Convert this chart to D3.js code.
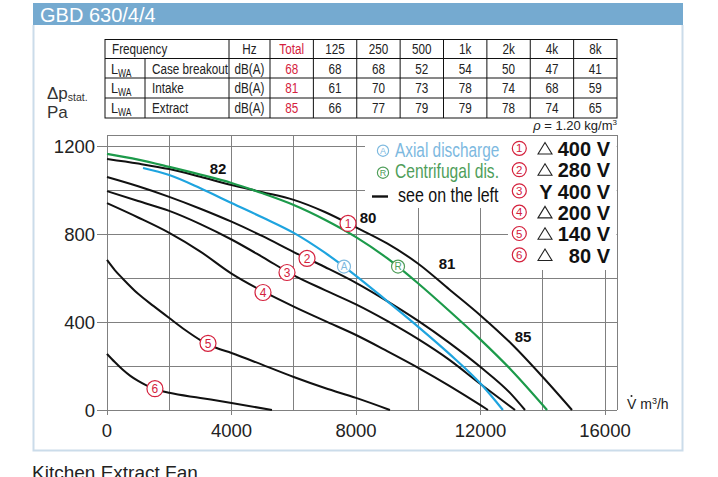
<!DOCTYPE html>
<html><head><meta charset="utf-8">
<script src="https://cdn.jsdelivr.net/npm/d3@7"></script>
<style>body{margin:0;background:#fff}svg{display:block;font-family:"Liberation Sans",Arial,Helvetica,sans-serif}</style>
</head><body><svg id="c" width="718" height="477"></svg>
<script>
// ---------- DATA ----------
const title = "GBD 630/4/4";
const footer = "Kitchen Extract Fan";
const freqHeaders = ["Total","125","250","500","1k","2k","4k","8k"];
const rowLabels = ["Case breakout","Intake","Extract"];
const caseBreakout = [68,68,68,52,54,50,47,41];
const intake = [81,61,70,73,78,74,68,59];
const extract = [85,66,77,79,79,78,74,65];
const xTicks = [0,4000,8000,12000,16000];
const yTicks = [0,400,800,1200];

// fan curves [flow m3/h, static pressure Pa]
const curve1 = [[0,1141],[1000,1120],[2000,1095],[3000,1060],[4000,1023],[5000,990],[6000,955],[7000,900],[8000,830],[9000,757],[10000,665],[11000,548],[12000,430],[13000,300],[14000,150],[14940,0]];
const curve2 = [[0,1059],[1000,1017],[2000,969],[3000,915],[4000,856],[5000,790],[6000,718],[7000,650],[8000,578],[9000,495],[10000,405],[11000,305],[12000,195],[13000,70],[13430,0]];
const curve3 = [[0,995],[1000,950],[2000,905],[3000,845],[4000,775],[5000,695],[6000,612],[7000,545],[8000,480],[9000,405],[10000,322],[11000,228],[12000,118],[13110,0]];
const curve4 = [[0,940],[1000,875],[2000,805],[3000,720],[4000,620],[5000,540],[6000,470],[7000,405],[8000,341],[9000,268],[10000,192],[11000,110],[12000,22],[12240,0]];
const curve5 = [[0,682],[250,636],[500,598],[1000,528],[1500,472],[2000,418],[2500,365],[3000,318],[3500,283],[4000,259],[5000,205],[6000,150],[7000,100],[8000,55],[9092,0]];
const curve6 = [[0,255],[250,218],[500,184],[750,155],[1000,132],[1250,113],[1500,98],[2000,78],[3000,55],[4000,32],[5300,0]];
const curveAxial = [[1157,1100],[2000,1068],[3000,1008],[4000,941],[5000,875],[6000,805],[7000,715],[8000,610],[9000,495],[10000,378],[11000,255],[12000,120],[12720,0]];
const curveCentrifugal = [[0,1164],[1000,1138],[2000,1105],[3000,1070],[4000,1032],[5000,985],[6000,932],[7000,865],[8000,786],[9000,690],[10000,575],[11000,450],[12000,320],[13000,180],[14140,0]];

const curveLabelPts = [[7743,848],[6426,689],[5783,625],[5012,534],[3245,303],[1540,97]];
const axialLabelPt = [7614,652];
const centrifugalLabelPt = [9350,652];
const soundLabels = [["82",3566,1100],["80",8387,873],["81",10924,664],["85",13366,332]];

const voltLabels = ["400 V","280 V","Y 400 V","200 V","140 V","80 V"];
const delta = [true,true,false,true,true,true];

// ---------- SETUP ----------
const svg = d3.select('#c');
const RED = '#d4213d', BLUE = '#1ea4df', GREEN = '#1c9a4a', LBLUE = '#7db9df', LGREEN = '#4f9e5a';
function ctext(parent,px,py,txt,k,anchor){
  return parent.append('text').attr('transform',`translate(${px},${py}) scale(${k},1)`).attr('text-anchor',anchor||'start').text(txt);
}

// header + panel
svg.append('rect').attr('x',33).attr('y',3).attr('width',650).attr('height',22).attr('fill','#75aad0');
svg.append('text').text(title).attr('x',40).attr('y',21.5).attr('fill','#fff').attr('font-size',20);
svg.append('path').attr('d','M33.5,25 V450.5 H682.5 V25').attr('fill','none').attr('stroke','#cbdcea').attr('stroke-width',2);
svg.append('text').text(footer).attr('x',32).attr('y',479).attr('font-size',19).attr('fill','#222');

// ---------- TABLE ----------
const tL=105, tM=145, tLab=229, tHz=270, tR=617;
const rowY = [39.5,58.5,78,98,118];
const band = d3.scaleBand().domain(freqHeaders).range([tHz,tR]);
const tg = svg.append('g').attr('stroke','#111').attr('stroke-width',1).attr('fill','none');
tg.append('rect').attr('x',tL).attr('y',rowY[0]).attr('width',tR-tL).attr('height',rowY[4]-rowY[0]);
rowY.slice(1,4).forEach(r=>tg.append('line').attr('x1',tL).attr('x2',tR).attr('y1',r).attr('y2',r));
[tLab,tHz].concat(freqHeaders.slice(1).map(d=>band(d))).forEach(c=>tg.append('line').attr('x1',c).attr('x2',c).attr('y1',rowY[0]).attr('y2',rowY[4]));
tg.append('line').attr('x1',tM).attr('x2',tM).attr('y1',rowY[1]).attr('y2',rowY[4]);
const tt = svg.append('g').attr('font-size',15).attr('fill','#222');
const rc = i => (rowY[i]+rowY[i+1])/2 + 5.4;
const K = 0.78;
ctext(tt,112,rc(0),'Frequency',K);
ctext(tt,(tLab+tHz)/2,rc(0),'Hz',K,'middle');
freqHeaders.forEach((h,i)=>ctext(tt,band(h)+band.bandwidth()/2,rc(0),h,K,'middle').attr('fill',i===0?RED:'#222'));
[caseBreakout,intake,extract].forEach((vals,r)=>{
  const L = tt.append('text').attr('transform',`translate(111,${rc(r+1)}) scale(0.85,1)`);
  L.append('tspan').text('L'); L.append('tspan').attr('font-size',10).attr('dy',3).text('WA');
  ctext(tt,152,rc(r+1),rowLabels[r],K);
  ctext(tt,(tLab+tHz)/2,rc(r+1),'dB(A)',K,'middle');
  vals.forEach((v,i)=>ctext(tt,band(freqHeaders[i])+band.bandwidth()/2,rc(r+1),v,K,'middle').attr('fill',i===0?RED:'#222'));
});
const rho = svg.append('text').attr('x',617).attr('y',130).attr('text-anchor','end').attr('font-size',13).attr('fill','#222');
rho.append('tspan').attr('font-style','italic').text('ρ');
rho.append('tspan').text(' = 1.20 kg/m');
rho.append('tspan').attr('font-size',8).attr('dy',-5).text('3');

// y-axis title
const yt = svg.append('text').attr('x',47).attr('y',99).attr('font-size',17).attr('fill','#333');
yt.append('tspan').text('Δp'); yt.append('tspan').attr('font-size',10.5).attr('dy',2).text('stat.');
svg.append('text').attr('x',47).attr('y',118).attr('font-size',17).attr('fill','#333').text('Pa');

// ---------- CHART ----------
const x = d3.scaleLinear().domain([0,16000]).range([107,605]);
const y = d3.scaleLinear().domain([0,1200]).range([410,146]);
const xEdge = 16400, yEdge = 1250;
const gg = svg.append('g').attr('stroke','#808080').attr('stroke-width',1);
d3.range(0,16001,2000).concat([xEdge]).forEach(v=>gg.append('line').attr('x1',x(v)).attr('x2',x(v)).attr('y1',xTicks.includes(v)?y(0)+5:y(0)).attr('y2',y(yEdge)));
d3.range(0,1201,200).concat([yEdge]).forEach(p=>gg.append('line').attr('y1',y(p)).attr('y2',y(p)).attr('x1',yTicks.includes(p)?x(0)-10:x(0)).attr('x2',x(xEdge)));
gg.selectAll('line').attr('shape-rendering','crispEdges');
// legend backgrounds
svg.append('rect').attr('x',365).attr('y',y(yEdge)+1).attr('width',x(xEdge)-365-1).attr('height',208-y(yEdge)-1).attr('fill','#fff');
svg.append('rect').attr('x',508).attr('y',y(yEdge)+1).attr('width',x(xEdge)-508-1).attr('height',270-y(yEdge)-1).attr('fill','#fff');

// tick labels
const tk = svg.append('g').attr('font-size',18.5).attr('fill','#222');
yTicks.forEach(p=>tk.append('text').attr('x',95).attr('y',y(p)+6.6).attr('text-anchor','end').text(p));
xTicks.forEach(v=>tk.append('text').attr('x',x(v)).attr('y',437).attr('text-anchor','middle').text(v));
// x unit
const xu = svg.append('text').attr('x',627).attr('y',409).attr('font-size',14).attr('fill','#222');
xu.append('tspan').text('V'); xu.append('tspan').text(' m'); xu.append('tspan').attr('font-size',9).attr('dy',-5).text('3'); xu.append('tspan').attr('dy',5).text('/h');
svg.append('circle').attr('cx',631.5).attr('cy',396).attr('r',1).attr('fill','#222');

// curves
const line = d3.line().x(d=>x(d[0])).y(d=>y(d[1])).curve(d3.curveMonotoneX);
[curve1,curve2,curve3,curve4,curve5,curve6].forEach(c=>svg.append('path').attr('d',line(c)).attr('fill','none').attr('stroke','#111').attr('stroke-width',2));
svg.append('path').attr('d',line(curveAxial)).attr('fill','none').attr('stroke',BLUE).attr('stroke-width',2.2);
svg.append('path').attr('d',line(curveCentrifugal)).attr('fill','none').attr('stroke',GREEN).attr('stroke-width',2.2);

function badge(cx,cy,r,txt,col,fs){
  svg.append('circle').attr('cx',cx).attr('cy',cy).attr('r',r).attr('fill','#fff').attr('stroke',col).attr('stroke-width',1.2);
  svg.append('text').attr('x',cx).attr('y',cy+fs*0.36).attr('text-anchor','middle').attr('font-size',fs).attr('fill',col).text(txt);
}
curveLabelPts.forEach((d,i)=>badge(x(d[0]),y(d[1]),8,String(i+1),RED,12));
badge(x(axialLabelPt[0]),y(axialLabelPt[1]),6.5,'A',LBLUE,10);
badge(x(centrifugalLabelPt[0]),y(centrifugalLabelPt[1]),6.5,'R',LGREEN,10);
soundLabels.forEach(d=>svg.append('text').attr('x',x(d[1])).attr('y',y(d[2])+5.5).attr('text-anchor','middle').attr('font-size',15).attr('font-weight','bold').attr('fill','#111').text(d[0]));

// left legend
badge(383,150.7,5.6,'A',LBLUE,9);
badge(383,172.7,5.6,'R',LGREEN,9);
const lgg = svg.append('g').attr('font-size',20);
ctext(lgg,395,157,'Axial discharge',0.77).attr('fill',LBLUE);
ctext(lgg,395,178,'Centrifugal dis.',0.78).attr('fill',LGREEN);
svg.append('line').attr('x1',372).attr('x2',388).attr('y1',196.5).attr('y2',196.5).attr('stroke','#111').attr('stroke-width',2.4);
ctext(lgg,398,202,'see on the left',0.8).attr('fill','#111');

// right legend
voltLabels.forEach((t,i)=>{
  const base = 156 + i*21.3;
  badge(519.3,base-7.7,7,String(i+1),RED,11.5);
  if(delta[i]){
    const cx=545, cy=base-7.5;
    svg.append('path').attr('d',`M${cx-7},${cy+5.5} L${cx},${cy-6} L${cx+7},${cy+5.5} Z`).attr('fill','none').attr('stroke','#222').attr('stroke-width',1.1);
  }
  svg.append('text').attr('x',610).attr('y',base).attr('text-anchor','end').attr('font-size',20).attr('font-weight','bold').attr('fill','#111').text(t);
});
</script></body></html>
